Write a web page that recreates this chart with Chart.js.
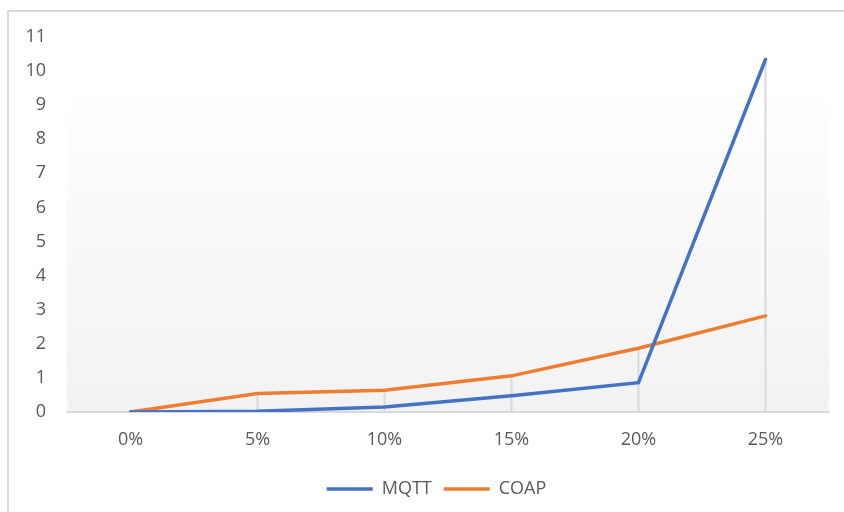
<!DOCTYPE html>
<html>
<head>
<meta charset="utf-8">
<script src="https://cdn.jsdelivr.net/npm/chart.js@4/dist/chart.umd.min.js"></script>
<style>
  html, body { margin: 0; padding: 0; background: #fff; }
  #wrap { width: 844px; height: 512px; }
</style>
</head>
<body>
<div id="wrap"><canvas id="lossChart"></canvas></div>
<script>
const labels = ['0%', '5%', '10%', '15%', '20%', '25%'];
const mqtt = [0, 0.02, 0.15, 0.48, 0.86, 10.34];
const coap = [0, 0.54, 0.64, 1.06, 1.87, 2.82];

const blue = '#4472c4';
const orange = '#ed7d31';
const textGrey = '#595959';
const lineGrey = '#d9d9d9';

// frame, plot gradient and drop lines (Excel style)
const decor = {
    id: 'decor',
    afterLayout(chart) {
        // nudge the legend a little to the right
        const lg = chart.legend;
        lg.left += 17;
        lg.right += 17;
    },
    beforeDraw(chart) {
        const c = chart.ctx;
        const a = chart.chartArea;
        c.save();
        c.strokeStyle = lineGrey;
        c.lineWidth = 2;
        c.beginPath();
        c.moveTo(8, 512);
        c.lineTo(8, 11);
        c.lineTo(844, 11);
        c.stroke();

        const top = a.top + (a.bottom - a.top) * 0.11;
        const g = c.createLinearGradient(0, top, 0, a.bottom);
        g.addColorStop(0, '#ffffff');
        g.addColorStop(1, '#f2f2f2');
        c.fillStyle = g;
        c.fillRect(a.left, top, a.right - a.left, a.bottom - top);
        c.restore();
    },
    beforeDatasetsDraw(chart) {
        const c = chart.ctx;
        const x = chart.scales.x;
        const y = chart.scales.y;
        c.save();
        c.strokeStyle = lineGrey;
        c.lineWidth = 2;
        labels.forEach((_, i) => {
            const top = Math.max(mqtt[i], coap[i]);
            const px = x.getPixelForValue(i);
            c.beginPath();
            c.moveTo(px, y.getPixelForValue(top));
            c.lineTo(px, y.getPixelForValue(0));
            c.stroke();
        });
        c.restore();
    }
};

new Chart(document.getElementById('lossChart'), {
    type: 'line',
    data: {
        labels: labels,
        datasets: [
            {
                label: 'MQTT',
                data: mqtt,
                borderColor: blue,
                backgroundColor: blue,
                borderWidth: 3.5,
                borderCapStyle: 'round',
                pointRadius: 0,
                tension: 0
            },
            {
                label: 'COAP',
                data: coap,
                borderColor: orange,
                backgroundColor: orange,
                borderWidth: 3.5,
                borderCapStyle: 'round',
                pointRadius: 0,
                tension: 0
            }
        ]
    },
    options: {
        responsive: true,
        maintainAspectRatio: false,
        animation: false,
        layout: {
            padding: { top: 37, right: 15, bottom: 4, left: 10 }
        },
        plugins: {
            tooltip: { enabled: false },
            legend: {
                display: true,
                position: 'bottom',
                labels: {
                    usePointStyle: true,
                    pointStyle: 'line',
                    pointStyleWidth: 46,
                    color: textGrey,
                    padding: 12,
                    font: { family: 'Open Sans', size: 18 }
                }
            }
        },
        scales: {
            x: {
                offset: true,
                grid: { display: false, drawTicks: false },
                border: { display: true, color: lineGrey, width: 2 },
                ticks: {
                    color: textGrey,
                    padding: 17,
                    maxRotation: 0,
                    font: { family: 'Open Sans', size: 18 }
                },
                afterFit(scale) { scale.height = 56; }
            },
            y: {
                min: 0,
                max: 11,
                grid: { display: false, drawTicks: false },
                border: { display: false },
                ticks: {
                    stepSize: 1,
                    color: textGrey,
                    padding: 21,
                    font: { family: 'Open Sans', size: 18 }
                },
                afterFit(scale) { scale.width = 57; }
            }
        }
    },
    plugins: [decor]
});
</script>
</body>
</html>
